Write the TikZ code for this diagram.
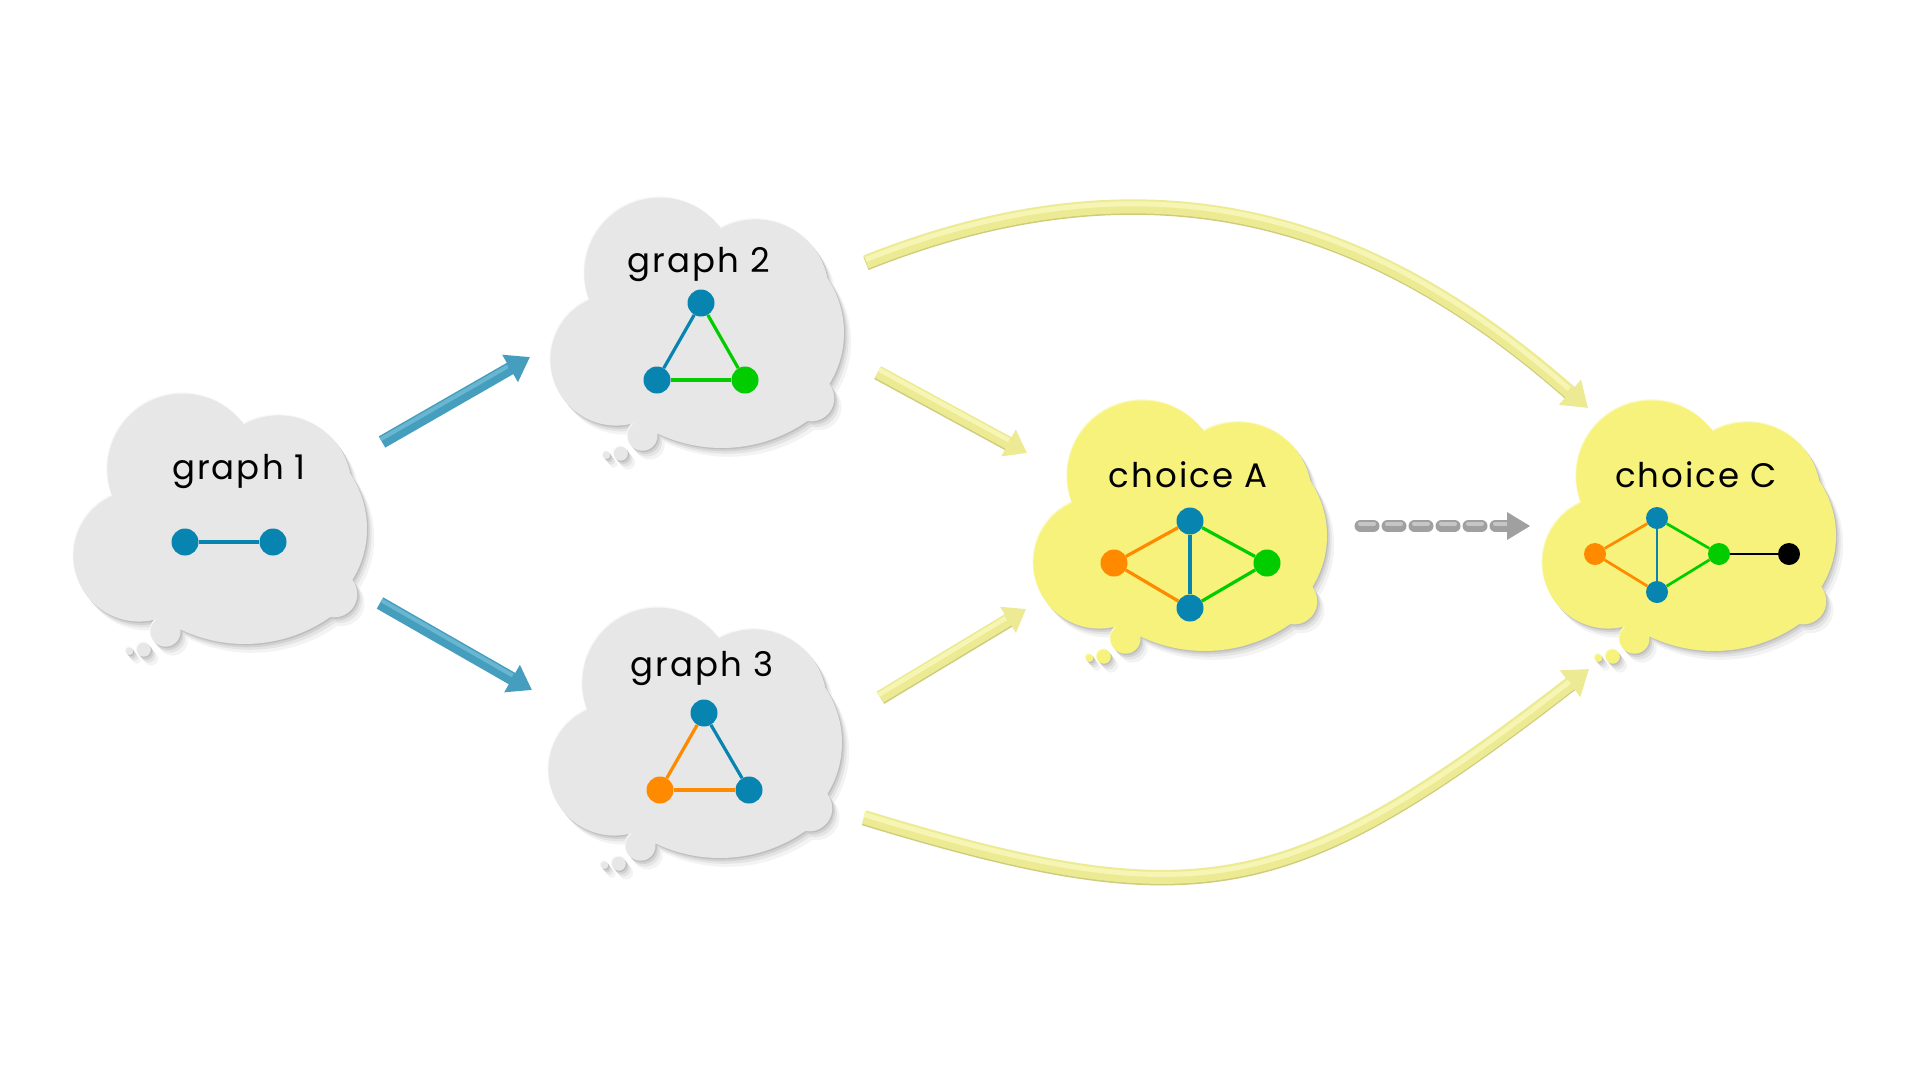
\documentclass[tikz,border=0pt]{standalone}
\usepackage{fontspec}
\setmainfont{Poppins}[LetterSpace=6]
\usetikzlibrary{arrows.meta}
\definecolor{nblue}{RGB}{8,132,176}
\definecolor{ngreen}{RGB}{0,204,0}
\definecolor{norange}{RGB}{255,138,0}
\definecolor{cgray}{RGB}{231,231,231}
\definecolor{cgrayrim}{RGB}{248,248,248}
\definecolor{cyel}{RGB}{246,242,124}
\definecolor{cyelrim}{RGB}{251,249,190}
\definecolor{sha}{RGB}{243,243,243}
\definecolor{shb}{RGB}{228,228,228}
\definecolor{shc}{RGB}{210,210,210}
\definecolor{shd}{RGB}{190,190,190}
\definecolor{abl}{RGB}{70,158,190}
\definecolor{ablhl}{RGB}{104,182,208}
\definecolor{ayel}{RGB}{236,235,148}
\definecolor{ayeldk}{RGB}{206,204,122}
\definecolor{ayelhl}{RGB}{246,245,180}
\definecolor{agray}{RGB}{160,160,160}
\definecolor{agrayhl}{RGB}{198,198,198}

\newcommand\cloudoutline{(49,110.4) arc[start angle=157.9,end angle=323.6,radius=75.6]
 arc[start angle=241.3,end angle=349,radius=73]
 arc[start angle=326,end angle=392,radius=97]
 arc[start angle=-38.5,end angle=100,radius=23]
 arc[start angle=54.96,end angle=124.4,radius=148.9]
 arc[start angle=71,end angle=247.1,radius=65.8] -- cycle
 (101.7,244.5) circle[radius=15]
 (80,262.5) circle[radius=7]
 (65.7,264) circle[radius=3.8]}

\newcommand\cloudat[4]{%
 \begin{scope}[shift={(#1,#2)}]
 \fill[sha,shift={(8,10)}] \cloudoutline;
 \fill[shb,shift={(5.5,7)}] \cloudoutline;
 \fill[shc,shift={(3.5,4.5)}] \cloudoutline;
 \fill[shd,shift={(2,2.5)}] \cloudoutline;
 \fill[#4] \cloudoutline;
 \fill[#3,shift={(0.8,1.2)}] \cloudoutline;
 \end{scope}}

\tikzset{
 lbl/.style={font=\fontsize{34}{40}\selectfont, text=black, anchor=base, inner sep=0pt},
 vtx/.style={circle, inner sep=0pt, minimum size=27pt},
 svtx/.style={circle, inner sep=0pt, minimum size=22pt},
 edge/.style={line width=3.2pt},
 sedge/.style={line width=2.7pt},
 barrow/.style={abl, line width=13pt, -{Triangle[length=23pt,width=30pt]}},
 bhl/.style={ablhl, line width=4pt, shorten >=24pt},
 yarrow/.style={ayel, line width=13pt, -{Triangle[length=21pt,width=29pt]}},
 ydk/.style={ayeldk, line width=13pt, shorten >=20pt},
 yhl/.style={ayelhl, line width=4.5pt, shorten >=22pt},
 carrow/.style={ayel, line width=14pt, -{Triangle[length=24pt,width=32pt]}},
 cdk/.style={ayeldk, line width=14pt, shorten >=23pt},
 chl/.style={ayelhl, line width=5pt, shorten >=25pt},
}

\begin{document}
\begin{tikzpicture}[x=1pt,y=-1pt]
\useasboundingbox[fill=white] (0,0) rectangle (1920,1080);

% clouds
\cloudat{63}{386}{cgray}{cgrayrim}
\cloudat{540}{190}{cgray}{cgrayrim}
\cloudat{538}{600}{cgray}{cgrayrim}
\cloudat{1023}{393}{cyel}{cyelrim}
\cloudat{1532}{393}{cyel}{cyelrim}

% labels
\node[lbl] (t1) at (239,479) {graph 1};
\node[lbl] (t2) at (699,272) {graph 2};
\node[lbl] (t3) at (702,676) {graph 3};
\node[lbl] (tA) at (1188,487) {choice A};
\node[lbl] (tC) at (1696,487) {choice C};

% graph 1
\node[vtx, fill=nblue] (g1a) at (185,542) {};
\node[vtx, fill=nblue] (g1b) at (273,542) {};
\draw[edge, nblue] (g1a) -- (g1b);

% graph 2
\node[vtx, fill=nblue] (g2t) at (701,303) {};
\node[vtx, fill=nblue] (g2l) at (657,380) {};
\node[vtx, fill=ngreen] (g2r) at (745,380) {};
\draw[edge, nblue] (g2t) -- (g2l);
\draw[edge, ngreen] (g2t) -- (g2r);
\draw[edge, ngreen] (g2l) -- (g2r);

% graph 3
\node[vtx, fill=nblue] (g3t) at (704,713) {};
\node[vtx, fill=norange] (g3l) at (660,790) {};
\node[vtx, fill=nblue] (g3r) at (749,790) {};
\draw[edge, norange] (g3t) -- (g3l);
\draw[edge, nblue] (g3t) -- (g3r);
\draw[edge, norange] (g3l) -- (g3r);

% choice A
\node[vtx, fill=nblue] (at) at (1190,521) {};
\node[vtx, fill=norange] (al) at (1114,563) {};
\node[vtx, fill=ngreen] (ar) at (1267,563) {};
\node[vtx, fill=nblue] (ab) at (1190,608) {};
\draw[edge, norange] (al) -- (at);
\draw[edge, norange] (al) -- (ab);
\draw[edge, nblue] (at) -- (ab);
\draw[edge, ngreen] (at) -- (ar);
\draw[edge, ngreen] (ab) -- (ar);

% choice C
\node[svtx, fill=norange] (cl) at (1595,554) {};
\node[svtx, fill=nblue] (ct) at (1657,518) {};
\node[svtx, fill=nblue] (cb) at (1657,592) {};
\node[svtx, fill=ngreen] (cg) at (1719,554) {};
\node[svtx, fill=black] (ck) at (1789,554) {};
\draw[sedge, norange] (cl) -- (ct);
\draw[sedge, norange] (cl) -- (cb);
\draw[sedge, nblue] (ct) -- (cb);
\draw[sedge, ngreen] (ct) -- (cg);
\draw[sedge, ngreen] (cb) -- (cg);
\draw[sedge, black] (cg) -- (ck);

% blue arrows
\coordinate (b1s) at (382,442); \coordinate (b1e) at (530,357);
\coordinate (b2s) at (380,603); \coordinate (b2e) at (532,690);
\draw[barrow] (b1s) -- (b1e);
\draw[bhl] ([shift={(-1.5,-2.6)}]b1s) -- ([shift={(-1.5,-2.6)}]b1e);
\draw[barrow] (b2s) -- (b2e);
\draw[bhl] ([shift={(1.5,-2.6)}]b2s) -- ([shift={(1.5,-2.6)}]b2e);

% yellow straight arrows
\coordinate (y1s) at (878,372); \coordinate (y1e) at (1027,453);
\coordinate (y2s) at (880,697); \coordinate (y2e) at (1026,609);
\draw[ydk] ([shift={(-0.7,1.3)}]y1s) -- ([shift={(-0.7,1.3)}]y1e);
\draw[yarrow] (y1s) -- (y1e);
\draw[yhl] ([shift={(1.2,-2.3)}]y1s) -- ([shift={(1.2,-2.3)}]y1e);
\draw[ydk] ([shift={(0.8,1.3)}]y2s) -- ([shift={(0.8,1.3)}]y2e);
\draw[yarrow] (y2s) -- (y2e);
\draw[yhl] ([shift={(-1.3,-2.2)}]y2s) -- ([shift={(-1.3,-2.2)}]y2e);

% curved arrows
\coordinate (c1s) at (866,262); \coordinate (c1e) at (1588,408);
\coordinate (c2s) at (864,817); \coordinate (c2e) at (1589,669);
\draw[cdk] ([shift={(0,1.5)}]c1s) .. controls (1182,137.5) and (1400,244.5) .. ([shift={(0,1.5)}]c1e);
\draw[carrow] (c1s) .. controls (1182,136) and (1400,243) .. (c1e);
\draw[chl] ([shift={(0,-2.5)}]c1s) .. controls (1182,133.5) and (1400,240.5) .. ([shift={(0,-2.5)}]c1e);
\draw[cdk] ([shift={(0,1.5)}]c2s) .. controls (1199,920.5) and (1289,902.5) .. ([shift={(0,1.5)}]c2e);
\draw[carrow] (c2s) .. controls (1199,919) and (1289,901) .. (c2e);
\draw[chl] ([shift={(0,-2.5)}]c2s) .. controls (1199,916.5) and (1289,898.5) .. ([shift={(0,-2.5)}]c2e);

% gray dashed arrow
\coordinate (gs) at (1360.5,526); \coordinate (gm) at (1509.5,526); \coordinate (ge) at (1530,526);
\draw[agray, line width=12pt, line cap=round, dash pattern=on 13pt off 14pt] (gs) -- (gm);
\draw[agrayhl, line width=4pt, line cap=round, dash pattern=on 14pt off 13pt] ([shift={(-0.5,-2.4)}]gs) -- ([shift={(-0.5,-2.4)}]gm);
\fill[agray] (ge) -- ++(-23,-14) -- ++(0,28) -- cycle;
\end{tikzpicture}
\end{document}
